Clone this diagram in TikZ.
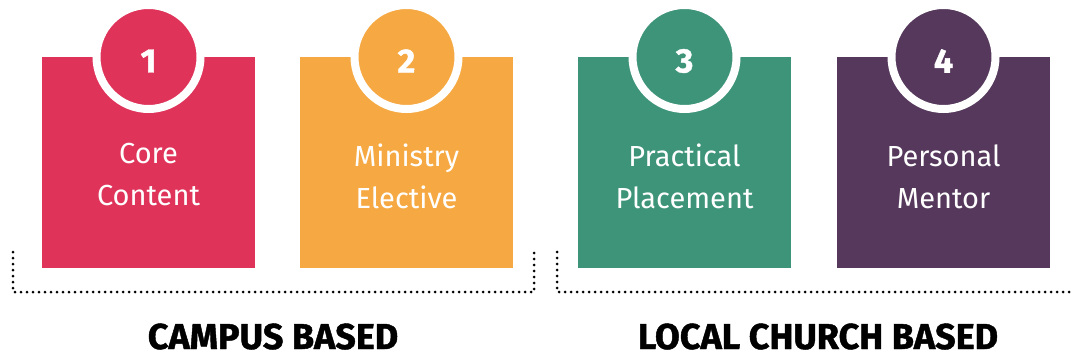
\documentclass[tikz,border=0pt]{standalone}
\usepackage{fontspec}
\setmainfont{Fira Sans}
\newfontfamily\headfont{Fira Sans}[BoldFeatures={FakeBold=1.2}]
\definecolor{cred}{HTML}{E0335A}
\definecolor{corange}{HTML}{F6A942}
\definecolor{cgreen}{HTML}{3E9479}
\definecolor{cpurple}{HTML}{55385C}
\begin{document}
\begin{tikzpicture}[x=1pt,y=-1pt,
  boxsq/.style={fill=#1, draw=none, minimum width=213pt, minimum height=211pt, anchor=north west, inner sep=0pt, outer sep=0pt},
  ring/.style={circle, fill=#1, draw=white, line width=8pt, minimum size=104pt, inner sep=0pt},
  numtxt/.style={text=white, font=\fontsize{34}{34}\selectfont\headfont\bfseries, inner sep=0pt},
  bodytxt/.style={text=white, font=\fontsize{29}{42}\selectfont, align=center, inner sep=0pt, anchor=base},
  headtxt/.style={text=black, font=\fontsize{36}{36}\selectfont\headfont\bfseries, inner sep=0pt, anchor=base},
  dotline/.style={line width=3pt, line cap=round, dash pattern=on 0pt off 6pt}
]
\useasboundingbox (0,0) rectangle (1073,358);
% boxes
\node[boxsq=cred] (b1) at (42,57) {};
\node[boxsq=corange] (b2) at (300,57) {};
\node[boxsq=cgreen] (b3) at (578,57) {};
\node[boxsq=cpurple] (b4) at (837,57) {};
% circles
\foreach \i/\c in {1/cred,2/corange,3/cgreen,4/cpurple}{
  \node[ring=\c] (c\i) at (b\i.north) {};
  \node[numtxt, yshift=-4pt] (n\i) at (c\i.center) {\i};
}
% texts
\node[bodytxt] (t1) at (148.5,205) {Core\\Content};
\node[bodytxt] (t2) at (406.5,208) {Ministry\\Elective};
\node[bodytxt] (t3) at (684.5,208) {Practical\\Placement};
\node[bodytxt] (t4) at (943.5,208) {Personal\\Mentor};
% dotted brackets
\coordinate (a1) at (13,252);
\coordinate (a2) at (534,252);
\coordinate (a3) at (557,252);
\coordinate (a4) at (1073,292);
\draw[dotline] (a1) -- (13,292) -- (534,292) -- (a2);
\draw[dotline] (a3) -- (557,292) -- (a4);
% headings
\node[headtxt] (h1) at (273,349) {CAMPUS BASED};
\node[headtxt] (h2) at (818,349) {LOCAL CHURCH BASED};
\end{tikzpicture}
\end{document}
